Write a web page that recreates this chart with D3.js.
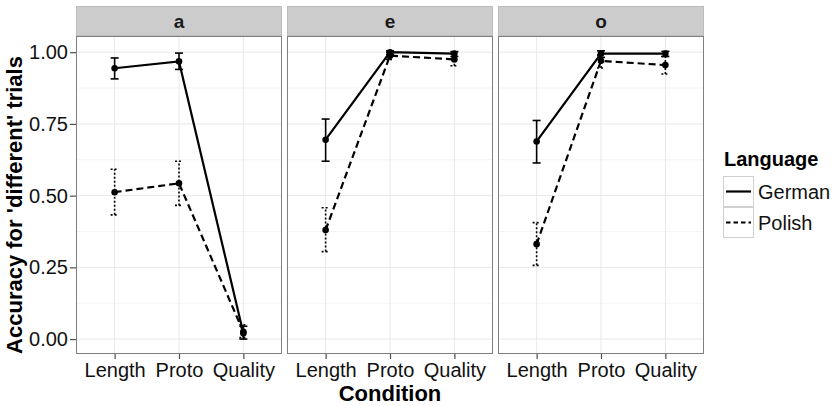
<!DOCTYPE html>
<html><head><meta charset="utf-8">
<script src="https://cdn.jsdelivr.net/npm/d3@7"></script>
<style>
body{margin:0;background:#fff;}
text{font-family:"Liberation Sans",Arial,sans-serif;}
</style></head>
<body><svg id="c" width="836" height="406"></svg>
<script>
const conditions = ["Length","Proto","Quality"];
const vowels = ["a","e","o"];
const languages = ["German","Polish"];
const yTicks = [0,0.25,0.5,0.75,1.0];
const yTickLabels = ["0.00","0.25","0.50","0.75","1.00"];
// means, lower and upper error bounds, per vowel panel, per condition
const germanMean  = [[0.944,0.968,0.020],[0.695,1.000,0.995],[0.689,0.995,0.995]];
const germanLow   = [[0.907,0.940,0.000],[0.620,0.993,0.985],[0.614,0.982,0.985]];
const germanHigh  = [[0.980,0.997,0.045],[0.767,1.005,1.002],[0.762,1.005,1.003]];
const polishMean  = [[0.512,0.543,0.025],[0.380,0.988,0.975],[0.331,0.970,0.955]];
const polishLow   = [[0.433,0.466,0.005],[0.305,0.975,0.953],[0.257,0.945,0.924]];
const polishHigh  = [[0.592,0.620,0.050],[0.458,1.000,0.995],[0.406,0.990,0.985]];

const svg = d3.select("#c");
const panelX = [76,287,498], panelW = 206;
const stripTop = 6, panelTop = 36, panelBot = 354;
const y = d3.scaleLinear().domain([-0.052,1.0565]).range([panelBot,panelTop]);
const series = [
  {name:"German", mean:germanMean, lo:germanLow, hi:germanHigh, dash:null, edash:null},
  {name:"Polish", mean:polishMean, lo:polishLow, hi:polishHigh, dash:"7,4", edash:"2,2"}
];
const minor = [0.125,0.375,0.625,0.875];

vowels.forEach((v,pi)=>{
  const x0 = panelX[pi];
  const x = d3.scalePoint().domain(conditions).range([x0,x0+panelW]).padding(0.6);
  const g = svg.append("g");
  g.append("rect").attr("x",x0).attr("y",panelTop).attr("width",panelW).attr("height",panelBot-panelTop).attr("fill","#fff");
  minor.forEach(t=>g.append("line").attr("x1",x0).attr("x2",x0+panelW).attr("y1",y(t)).attr("y2",y(t)).attr("stroke","#f4f4f4").attr("stroke-width",1));
  yTicks.forEach(t=>g.append("line").attr("x1",x0).attr("x2",x0+panelW).attr("y1",y(t)).attr("y2",y(t)).attr("stroke","#e8e8e8").attr("stroke-width",1));
  conditions.forEach(c=>g.append("line").attr("x1",x(c)).attr("x2",x(c)).attr("y1",panelTop).attr("y2",panelBot).attr("stroke","#e8e8e8").attr("stroke-width",1));
  // strip
  g.append("rect").attr("x",x0+0.5).attr("y",stripTop+0.5).attr("width",panelW-1).attr("height",panelTop-stripTop-1)
    .attr("fill","#cccccc").attr("stroke","#bdbdbd");
  g.append("text").attr("x",x0+panelW/2).attr("y",(stripTop+panelTop)/2).attr("dy","0.36em").attr("text-anchor","middle")
    .attr("font-size",19).attr("font-weight","bold").attr("fill","#1a1a1a").text(v);

  series.forEach(s=>{
    const pts = conditions.map((c,i)=>({c, m:s.mean[pi][i], lo:s.lo[pi][i], hi:s.hi[pi][i]}));
    // error bars
    pts.forEach(p=>{
      const eg = g.append("g").attr("stroke","#000").attr("stroke-width",1.6).attr("fill","none");
      if(s.edash) eg.attr("stroke-dasharray",s.edash);
      eg.append("line").attr("x1",x(p.c)).attr("x2",x(p.c)).attr("y1",y(p.lo)).attr("y2",y(p.hi));
      eg.append("line").attr("x1",x(p.c)-4).attr("x2",x(p.c)+4).attr("y1",y(p.lo)).attr("y2",y(p.lo));
      eg.append("line").attr("x1",x(p.c)-4).attr("x2",x(p.c)+4).attr("y1",y(p.hi)).attr("y2",y(p.hi));
    });
    const line = d3.line().x(p=>x(p.c)).y(p=>y(p.m));
    const path = g.append("path").datum(pts).attr("d",line).attr("fill","none").attr("stroke","#000").attr("stroke-width",2.2);
    if(s.dash) path.attr("stroke-dasharray",s.dash);
    g.selectAll(null).data(pts).enter().append("circle").attr("cx",p=>x(p.c)).attr("cy",p=>y(p.m)).attr("r",3.3).attr("fill","#000");
  });

  g.append("rect").attr("x",x0+0.5).attr("y",panelTop+0.5).attr("width",panelW-1).attr("height",panelBot-panelTop-1)
    .attr("fill","none").attr("stroke","#7f7f7f").attr("stroke-width",1);

  const ax = g.append("g").attr("transform",`translate(0,${panelBot})`)
    .call(d3.axisBottom(x).tickSize(5).tickPadding(4));
  ax.select(".domain").remove();
  ax.selectAll("line").attr("stroke","#4d4d4d").attr("stroke-width",1.2);
  ax.selectAll("text").attr("font-size",20).attr("fill","#111").attr("font-family","Liberation Sans, Arial, sans-serif");
});

// y axis
const ay = svg.append("g").attr("transform",`translate(${panelX[0]},0)`)
  .call(d3.axisLeft(y).tickValues(yTicks).tickFormat((d,i)=>yTickLabels[i]).tickSize(6).tickPadding(2));
ay.select(".domain").remove();
ay.selectAll("line").attr("stroke","#4d4d4d").attr("stroke-width",1.2);
ay.selectAll("text").attr("font-size",20).attr("fill","#111").attr("font-family","Liberation Sans, Arial, sans-serif");

// axis titles
svg.append("text").attr("x",panelX[1]+panelW/2).attr("y",401).attr("text-anchor","middle")
  .attr("font-size",22).attr("font-weight","bold").text("Condition");
svg.append("text").attr("transform",`translate(22,${(panelTop+panelBot)/2+10}) rotate(-90)`).attr("text-anchor","middle")
  .attr("font-size",22).attr("font-weight","bold").text("Accuracy for 'different' trials");

// legend
const lg = svg.append("g");
lg.append("text").attr("x",724).attr("y",166).attr("font-size",20).attr("font-weight","bold").text("Language");
languages.forEach((l,i)=>{
  const ky = 176 + i*31;
  lg.append("rect").attr("x",723.5).attr("y",ky+0.5).attr("width",30).attr("height",30).attr("fill","#fff").attr("stroke","#d0d0d0");
  const ln = lg.append("line").attr("x1",726).attr("x2",751).attr("y1",ky+15.5).attr("y2",ky+15.5).attr("stroke","#000").attr("stroke-width",2.2);
  if(series[i].dash) ln.attr("stroke-dasharray","4.5,3");
  lg.append("text").attr("x",758).attr("y",ky+15.5).attr("dy","0.36em").attr("font-size",20).attr("fill","#111").text(l);
});
</script></body></html>
